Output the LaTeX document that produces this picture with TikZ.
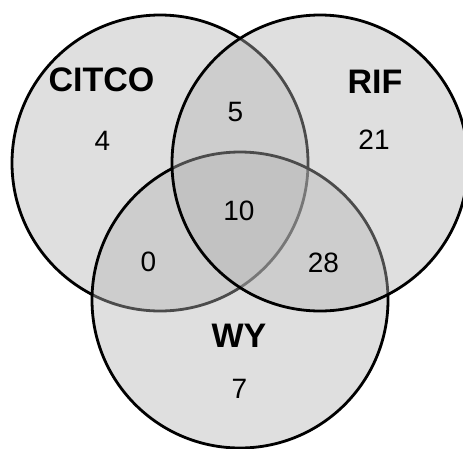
\documentclass[tikz,border=0pt]{standalone}
\usepackage{fontspec}
\setmainfont{Liberation Sans}
\definecolor{vennfill}{RGB}{181,181,181}
\begin{document}
\begin{tikzpicture}[x=1pt,y=-1pt,
  venn/.style={circle,draw=black,line width=2.8pt,fill=vennfill,fill opacity=0.42,draw opacity=1,minimum size=296pt,inner sep=0pt},
  setlabel/.style={font=\fontsize{34}{36}\selectfont\bfseries,text=black},
  count/.style={font=\fontsize{28}{30}\selectfont,text=black}]
\useasboundingbox (0,0) rectangle (463,448);
\clip (0,0) rectangle (463,448);
\fill[white] (0,0) rectangle (463,448);
\node[venn] (citco) at (160,163) {};
\node[venn] (wy) at (240,300) {};
\node[venn] (rif) at (320,163) {};
\node[setlabel] (lcitco) at (101.5,80) {CITCO};
\node[setlabel] (lrif) at (375,81.5) {RIF};
\node[setlabel] (lwy) at (239,335.5) {WY};
\node[count] (n4) at (102.5,141) {4};
\node[count] (n5) at (235.5,112) {5};
\node[count] (n21) at (374,140) {21};
\node[count] (n10) at (239,210.5) {10};
\node[count] (n0) at (148.5,262) {0};
\node[count] (n28) at (323.5,263) {28};
\node[count] (n7) at (239.5,389) {7};
\end{tikzpicture}
\end{document}
